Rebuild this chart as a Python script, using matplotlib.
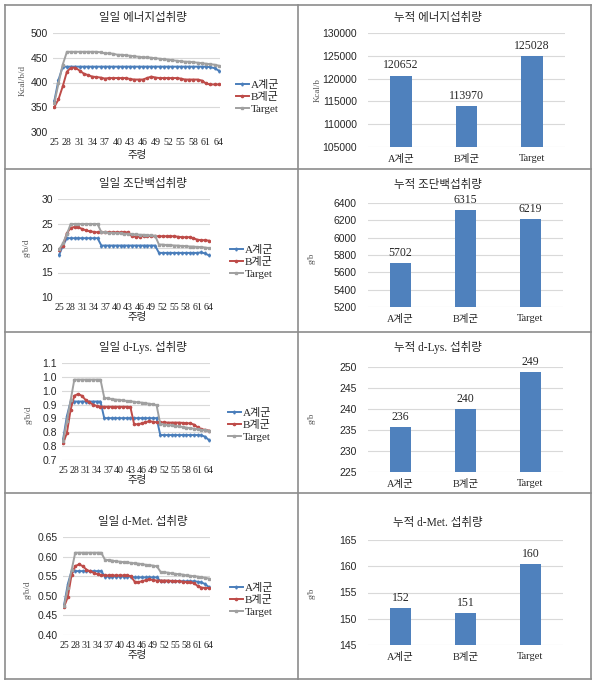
import matplotlib
matplotlib.use("Agg")
import matplotlib.pyplot as plt
from matplotlib.lines import Line2D

plt.rcParams['font.family'] = ['Liberation Serif', 'Noto Sans CJK KR']

# ---------------- data ----------------
weeks = [25, 26, 27, 28, 29, 30, 31, 32, 33, 34, 35, 36, 37, 38, 39, 40, 41, 42, 43, 44,
         45, 46, 47, 48, 49, 50, 51, 52, 53, 54, 55, 56, 57, 58, 59, 60, 61, 62, 63, 64]
week_ticks = [25, 28, 31, 34, 37, 40, 43, 46, 49, 52, 55, 58, 61, 64]
series_names = ['A계군', 'B계군', 'Target']
groups = ['A계군', 'B계군', 'Target']

energy_A = [362, 405, 432, 432, 432, 432, 432, 432, 432, 432, 432, 432, 432, 432, 432, 432, 432, 432, 432, 432,
            432, 432, 432, 432, 432, 432, 432, 432, 432, 432, 432, 432, 432, 432, 432, 432, 432, 431, 429, 424]
energy_B = [350, 366, 392, 422, 430, 430, 424, 418, 415, 412, 411, 410, 408, 409, 409, 409, 409, 409, 407, 406,
            406, 406, 409, 412, 410, 409, 409, 409, 409, 409, 408, 406, 406, 406, 406, 404, 398, 396, 396, 396]
energy_T = [358, 398, 436, 462, 462, 462, 462, 462, 462, 462, 462, 461, 459, 459, 458, 456, 456, 455, 454, 453,
            452, 451, 451, 450, 449, 448, 447, 446, 445, 444, 443, 442, 442, 441, 440, 439, 438, 437, 436, 434]

protein_A = [18.6, 20.5, 22.0, 22.0, 22.0, 22.0, 22.0, 22.0, 22.0, 22.0, 22.0, 20.5, 20.5, 20.5, 20.5, 20.5,
             20.5, 20.5, 20.5, 20.5, 20.5, 20.5, 20.5, 20.5, 20.5, 20.5, 19.0, 19.0, 19.0, 19.0, 19.0, 19.0,
             19.0, 19.0, 19.0, 19.0, 19.0, 19.1, 18.9, 18.5]
protein_B = [19.6, 20.5, 23.0, 24.1, 24.3, 24.2, 23.9, 23.6, 23.4, 23.3, 23.2, 23.2, 23.2, 23.2, 23.2, 23.2,
             23.2, 23.2, 23.2, 22.4, 22.3, 22.3, 22.5, 22.5, 22.4, 22.4, 22.4, 22.4, 22.4, 22.4, 22.4, 22.3,
             22.2, 22.2, 22.2, 22.0, 21.7, 21.6, 21.6, 21.5]
protein_T = [19.7, 21.0, 22.8, 24.9, 24.9, 24.9, 24.9, 24.9, 24.9, 24.9, 24.9, 23.2, 23.2, 23.1, 23.1, 23.0,
             23.0, 22.9, 22.9, 22.8, 22.8, 22.7, 22.7, 22.6, 22.6, 22.5, 20.7, 20.7, 20.6, 20.6, 20.5, 20.5,
             20.4, 20.4, 20.3, 20.3, 20.2, 20.2, 20.1, 20.0]

lys_A = [0.775, 0.858, 0.911, 0.911, 0.911, 0.911, 0.911, 0.911, 0.911, 0.911, 0.911, 0.851, 0.851, 0.851,
         0.851, 0.851, 0.851, 0.851, 0.851, 0.851, 0.851, 0.851, 0.851, 0.851, 0.851, 0.851, 0.790, 0.790,
         0.790, 0.790, 0.790, 0.790, 0.790, 0.790, 0.790, 0.790, 0.790, 0.789, 0.784, 0.772]
lys_B = [0.760, 0.797, 0.881, 0.932, 0.938, 0.932, 0.917, 0.908, 0.900, 0.895, 0.893, 0.892, 0.892, 0.892,
         0.892, 0.892, 0.892, 0.892, 0.891, 0.829, 0.829, 0.832, 0.836, 0.840, 0.838, 0.836, 0.836, 0.836,
         0.835, 0.835, 0.835, 0.835, 0.834, 0.833, 0.832, 0.828, 0.818, 0.811, 0.809, 0.806]
lys_T = [0.769, 0.840, 0.915, 0.990, 0.990, 0.990, 0.990, 0.990, 0.990, 0.990, 0.990, 0.925, 0.922, 0.920,
         0.918, 0.917, 0.915, 0.913, 0.912, 0.910, 0.908, 0.907, 0.905, 0.903, 0.901, 0.898, 0.830, 0.828,
         0.826, 0.825, 0.823, 0.821, 0.819, 0.817, 0.815, 0.813, 0.811, 0.809, 0.807, 0.805]

met_A = [0.477, 0.530, 0.563, 0.563, 0.563, 0.563, 0.563, 0.563, 0.563, 0.563, 0.563, 0.549, 0.549, 0.549,
         0.549, 0.549, 0.549, 0.549, 0.549, 0.547, 0.547, 0.547, 0.547, 0.547, 0.547, 0.547, 0.537, 0.537,
         0.537, 0.537, 0.537, 0.537, 0.537, 0.537, 0.537, 0.537, 0.536, 0.534, 0.530, 0.522]
met_B = [0.472, 0.497, 0.553, 0.576, 0.580, 0.576, 0.567, 0.562, 0.559, 0.555, 0.553, 0.552, 0.552, 0.552,
         0.552, 0.552, 0.552, 0.552, 0.550, 0.536, 0.535, 0.537, 0.540, 0.542, 0.540, 0.539, 0.539, 0.539,
         0.539, 0.538, 0.538, 0.537, 0.536, 0.535, 0.535, 0.532, 0.525, 0.521, 0.520, 0.520]
met_T = [0.474, 0.520, 0.565, 0.610, 0.610, 0.610, 0.610, 0.610, 0.610, 0.610, 0.610, 0.592, 0.591, 0.590,
         0.588, 0.587, 0.586, 0.585, 0.584, 0.583, 0.582, 0.581, 0.579, 0.578, 0.577, 0.575, 0.561, 0.560,
         0.559, 0.557, 0.556, 0.555, 0.554, 0.552, 0.551, 0.550, 0.549, 0.547, 0.546, 0.544]

cum_energy = [120652, 113970, 125028]
cum_protein = [5702, 6315, 6219]
cum_lys = [235.7, 240.0, 248.8]
cum_met = [152.0, 151.1, 160.4]

# ---------------- figure ----------------
W, H = 600, 688
fig = plt.figure(figsize=(W / 100, H / 100), dpi=100)
fig.patch.set_facecolor('white')


def rect(l, t, r, b):
    return [l / W, 1 - b / H, (r - l) / W, (b - t) / H]


def fx(x):
    return x / W


def fy(y):
    return 1 - y / H


SANS = ['Liberation Sans', 'Noto Sans CJK KR']
SERIF = ['Liberation Serif', 'Noto Sans CJK KR']
TXT = '#262626'
GRID = '#D9D9D9'
LINE_COLORS = ['#4A7EBB', '#BE4B48', '#A0A0A0']
MARKERS = ['d', 'o', 's']
BAR_COLOR = '#4F81BD'


def style_axes(ax):
    for s in ax.spines.values():
        s.set_visible(False)
    ax.tick_params(length=0)
    ax.yaxis.grid(True, color=GRID, lw=0.8)
    ax.set_axisbelow(True)


def line_chart(box, series, yticks, ylabels, title, title_xy, ylab, ylab_xy, xlab_y, leg_xy):
    ax = fig.add_axes(rect(*box))
    handles = []
    for vals, c, m, n in zip(series, LINE_COLORS, MARKERS, series_names):
        h, = ax.plot(weeks, vals, color=c, lw=1.4, marker=m, ms=1.6, mec=c, mfc=c, label=n)
        handles.append(h)
    style_axes(ax)
    ax.set_xlim(24.7, 64.3)
    ax.set_ylim(yticks[0], yticks[-1])
    ax.set_yticks(yticks)
    ax.set_yticklabels(ylabels, family=SANS, fontsize=7.5, color=TXT)
    ax.set_xticks(week_ticks)
    ax.set_xticklabels([str(w) for w in week_ticks], family=SERIF, fontsize=7.2, color=TXT)
    ax.tick_params(axis='x', pad=4)
    ax.tick_params(axis='y', pad=3.5)
    fig.text(fx(title_xy[0]), fy(title_xy[1]), title, ha='center', va='center', fontsize=8.3,
             family=SERIF, color=TXT)
    fig.text(fx(ylab_xy[0]), fy(ylab_xy[1]), ylab, ha='center', va='center', fontsize=6.5,
             family=SERIF, color='#595959', rotation=90)
    fig.text(fx(137), fy(xlab_y), '주령', ha='center', va='center', fontsize=7.5, family=SERIF, color=TXT)
    fig.legend(handles=handles, labels=series_names, loc='center left',
               bbox_to_anchor=(fx(leg_xy[0]), fy(leg_xy[1])), frameon=False,
               prop={'family': SERIF, 'size': 8}, handlelength=1.2, handletextpad=0.15,
               labelspacing=0.2, borderpad=0, labelcolor=TXT)
    return ax


def bar_chart(box, vals, yticks, title, title_xy, ylab, ylab_xy):
    ax = fig.add_axes(rect(*box))
    xs = list(range(len(groups)))
    bars = ax.bar(xs, vals, width=0.33, color=BAR_COLOR)
    style_axes(ax)
    ax.set_xlim(-0.5, 2.5)
    ax.set_ylim(yticks[0], yticks[-1])
    ax.set_yticks(yticks)
    ax.set_yticklabels([str(t) for t in yticks], family=SANS, fontsize=7.5, color=TXT)
    ax.set_xticks(xs)
    ax.set_xticklabels(groups, family=SERIF, fontsize=7.5, color=TXT)
    ax.tick_params(axis='x', pad=5)
    ax.tick_params(axis='y', pad=8)
    for b, v in zip(bars, vals):
        ax.annotate(f'{v:.0f}', (b.get_x() + b.get_width() / 2, v), xytext=(0, 3),
                    textcoords='offset points', ha='center', va='bottom', fontsize=8.5,
                    family=SERIF, color=TXT, annotation_clip=False)
    fig.text(fx(title_xy[0]), fy(title_xy[1]), title, ha='center', va='center', fontsize=8.3,
             family=SERIF, color=TXT)
    fig.text(fx(ylab_xy[0]), fy(ylab_xy[1]), ylab, ha='center', va='center', fontsize=6.5,
             family=SERIF, color='#595959', rotation=90)
    return ax


# row 1
line_chart((53, 33, 220, 132), [energy_A, energy_B, energy_T],
           [300, 350, 400, 450, 500], ['300', '350', '400', '450', '500'],
           '일일 에너지섭취량', (143, 18), 'Kcal/b/d', (23, 80), 155, (230, 97))
bar_chart((368, 33, 565, 147), cum_energy,
          [105000, 110000, 115000, 120000, 125000, 130000],
          '누적 에너지섭취량', (438, 18), 'Kcal/b', (318, 90))

# row 2
line_chart((58, 199, 210, 297), [protein_A, protein_B, protein_T],
           [10, 15, 20, 25, 30], ['10', '15', '20', '25', '30'],
           '일일 조단백섭취량', (143, 184), 'g/b/d', (27, 248), 317, (224, 262))
bar_chart((368, 203, 563, 307), cum_protein,
          [5200, 5400, 5600, 5800, 6000, 6200, 6400],
          '누적 조단백섭취량', (438, 185), 'g/b', (312, 258))

# row 3
line_chart((62, 363, 210, 460), [lys_A, lys_B, lys_T],
           [0.70, 0.75, 0.80, 0.85, 0.90, 0.95, 1.00, 1.05],
           ['0.7', '0.8', '0.8', '0.9', '0.9', '1.0', '1.0', '1.1'],
           '일일 d-Lys. 섭취량', (143, 347), 'g/b/d', (29, 415), 480, (222, 425))
bar_chart((368, 367, 563, 472), cum_lys,
          [225, 230, 235, 240, 245, 250],
          '누적 d-Lys. 섭취량', (438, 348), 'g/b', (312, 418))

# row 4
line_chart((63, 537, 210, 635), [met_A, met_B, met_T],
           [0.40, 0.45, 0.50, 0.55, 0.60, 0.65],
           ['0.40', '0.45', '0.50', '0.55', '0.60', '0.65'],
           '일일 d-Met. 섭취량', (143, 522), 'g/b/d', (28, 590), 655, (224, 600))
bar_chart((368, 540, 563, 645), cum_met,
          [145, 150, 155, 160, 165],
          '누적 d-Met. 섭취량', (438, 523), 'g/b', (312, 593))

# table grid
BORDER = '#8C8C8C'
for (x0, y0, x1, y1) in [(5, 5, 591, 5), (5, 679, 591, 679), (5, 5, 5, 679), (591, 5, 591, 679),
                         (298, 5, 298, 679), (5, 169, 591, 169), (5, 332, 591, 332), (5, 493, 591, 493)]:
    fig.add_artist(Line2D([fx(x0), fx(x1)], [fy(y0), fy(y1)], color=BORDER, lw=1.2,
                          transform=fig.transFigure))

fig.savefig('out.png', dpi=100)
